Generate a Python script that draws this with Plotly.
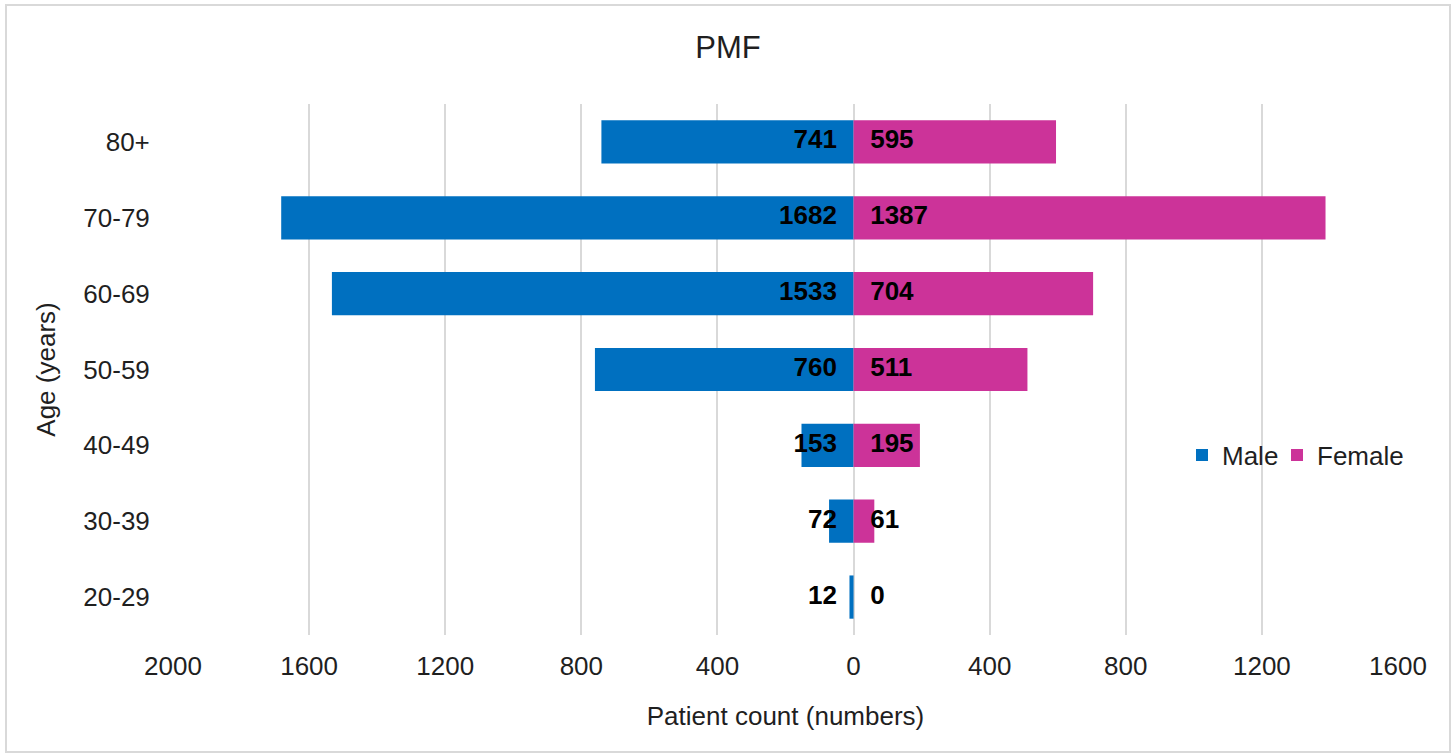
import plotly.graph_objects as go

ages = ["20-29", "30-39", "40-49", "50-59", "60-69", "70-79", "80+"]
male = [12, 72, 153, 760, 1533, 1682, 741]
female = [0, 61, 195, 511, 704, 1387, 595]
tick_vals = [-2000, -1600, -1200, -800, -400, 0, 400, 800, 1200, 1600]
tick_text = ["2000", "1600", "1200", "800", "400", "0", "400", "800", "1200", "1600"]

MALE_C = "#0070C0"
FEMALE_C = "#CC3399"
FONT = "Liberation Sans, Arial, sans-serif"
TXT = "#1f1f1f"

fig = go.Figure()
fig.add_trace(go.Bar(y=ages, x=[-v for v in male], orientation="h", name="Male", legend="legend",
                     marker=dict(color=MALE_C, line=dict(width=0)), hoverinfo="skip"))
fig.add_trace(go.Bar(y=ages, x=female, orientation="h", name="Female", legend="legend2",
                     marker=dict(color=FEMALE_C, line=dict(width=0)), hoverinfo="skip"))
# value labels anchored at the zero axis
for vals, pos in ((male, "middle left"), (female, "middle right")):
    fig.add_trace(go.Scatter(y=ages, x=[0] * len(ages), mode="markers+text", text=[str(v) for v in vals],
                             textposition=pos, showlegend=False, hoverinfo="skip",
                             textfont=dict(family=FONT, size=26, color="#000000", weight="bold"),
                             marker=dict(size=25, opacity=0)))

L, R, T, B = 173, 57, 104, 119
W, H = 1455, 754
pw, ph = W - L - R, H - T - B

leg_common = dict(orientation="h", xanchor="left", y=(H - B - 455) / ph, yanchor="middle",
                  font=dict(size=26, color=TXT), bgcolor="rgba(0,0,0,0)", itemwidth=30)

fig.update_layout(
    width=W, height=H,
    margin=dict(l=L, r=R, t=T, b=B, autoexpand=False),
    paper_bgcolor="white", plot_bgcolor="white",
    barmode="relative", bargap=0.43,
    font=dict(family=FONT, size=26, color=TXT),
    title=dict(text="PMF", x=728 / W, xanchor="center", y=1 - 47 / H, yanchor="middle",
               font=dict(family=FONT, size=31, color=TXT)),
    xaxis=dict(range=[-2000, 1600], tickvals=tick_vals, ticktext=tick_text,
               showgrid=True, gridcolor="#d9d9d9", gridwidth=2,
               zeroline=True, zerolinecolor="#d9d9d9", zerolinewidth=2,
               showline=False, ticks="outside", ticklen=8, tickcolor="rgba(0,0,0,0)",
               tickfont=dict(size=26, color=TXT), fixedrange=True,
               title=dict(text="Patient count (numbers)", standoff=26, font=dict(size=26, color=TXT))),
    yaxis=dict(categoryorder="array", categoryarray=ages, range=[-0.5, 6.5],
               showgrid=False, zeroline=False,
               ticks="outside", ticklen=17, tickcolor="rgba(0,0,0,0)",
               tickfont=dict(size=26, color=TXT), fixedrange=True,
               title=dict(text="Age (years)", standoff=20, font=dict(size=26, color=TXT))),
    legend=dict(x=(1182 - L) / pw, **leg_common),
    legend2=dict(x=(1277 - L) / pw, **leg_common),
    showlegend=True,
)

fig.add_shape(type="rect", xref="paper", yref="paper",
              x0=(6 - L) / pw, x1=(1450 - L) / pw,
              y0=(H - B - 752) / ph, y1=(H - B - 5) / ph,
              line=dict(color="#d9d9d9", width=2), fillcolor="rgba(0,0,0,0)", layer="below")

fig.write_html("out.html", config={"displayModeBar": False},
               post_script="document.body.style.margin='0';document.body.style.overflow='hidden';")
